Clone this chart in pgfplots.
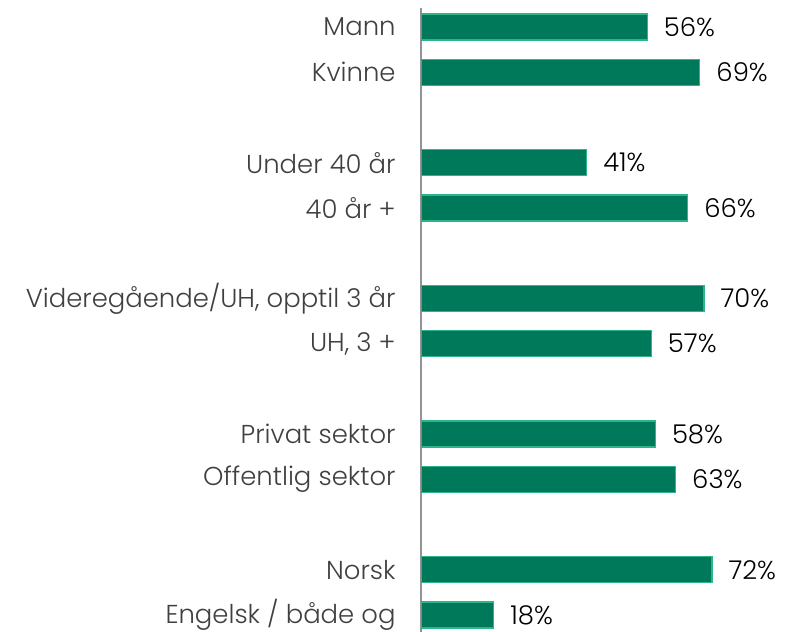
\documentclass[border=0pt]{standalone}
\usepackage{pgfplots}
\pgfplotsset{compat=1.18}
\usepackage{fontspec}
\setmainfont{Poppins}[UprightFont=* Light]
\definecolor{barfill}{HTML}{00785A}
\definecolor{baredge}{HTML}{2DB58A}
\definecolor{lab}{HTML}{404040}
\begin{document}
\begin{tikzpicture}
\path[use as bounding box] (0bp,0bp) rectangle (792bp,632bp);
\begin{axis}[
  at={(421bp,0bp)}, anchor=south west,
  scale only axis, width=371bp, height=624bp,
  xbar, bar width=26bp,
  xmin=0, xmax=91.8, ymin=-0.376, ymax=13.42,
  axis x line=none, axis y line*=left,
  y axis line style={draw=gray!85, line width=1.5bp},
  ytick={0,1,3,4,6,7,9,10,12,13},
  yticklabels={Engelsk / både og, Norsk, Offentlig sektor, Privat sektor, {UH, 3 +}, {Videregående/UH, opptil 3 år}, 40 år +, Under 40 år, Kvinne, Mann},
  ytick style={draw=none},
  yticklabel style={font=\fontsize{26}{30}\selectfont, text=lab, anchor=east, inner sep=0pt, xshift=-21bp},
  point meta=x,
  /pgf/number format/assume math mode=true,
  nodes near coords={\pgfmathprintnumber[assume math mode=true]{\pgfplotspointmeta}\%},
  nodes near coords align=horizontal,
  every node near coord/.append style={font=\fontsize{26}{30}\selectfont, text=black, anchor=west, inner sep=0pt, xshift=16bp},
]
\addplot[fill=barfill, draw=baredge, line width=1.2bp] coordinates {
  (18,0) (72,1) (63,3) (58,4) (57,6) (70,7) (66,9) (41,10) (69,12) (56,13)
};
\end{axis}
\end{tikzpicture}
\end{document}
